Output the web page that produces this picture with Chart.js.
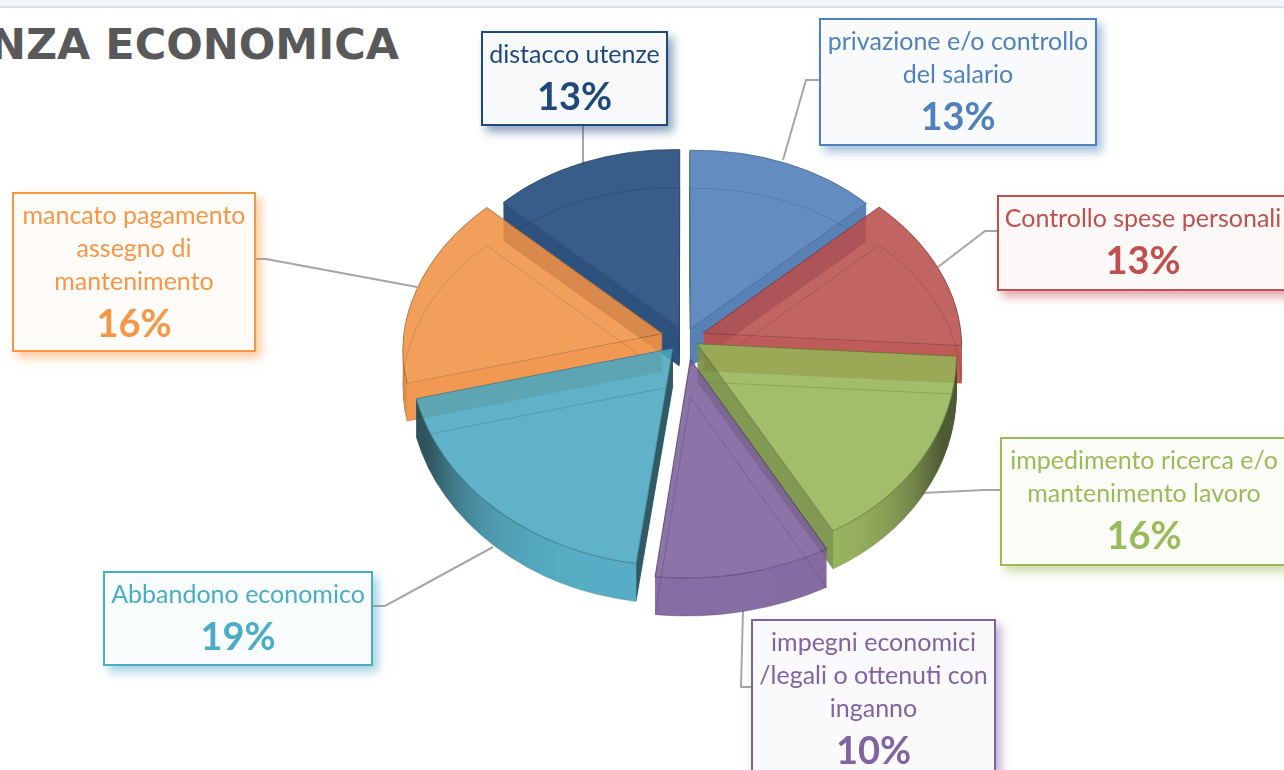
<!DOCTYPE html>
<html lang="it">
<head>
<meta charset="utf-8">
<title>Violenza economica</title>
<script src="https://cdn.jsdelivr.net/npm/chart.js@4"></script>
<style>
html,body{margin:0;padding:0;background:#fff;width:1284px;height:770px;overflow:hidden}
#stage{position:relative;width:1284px;height:770px;overflow:hidden}
#topbar{position:absolute;left:0;top:0;width:1284px;height:6px;background:#F0F6FC;border-bottom:2px solid #D9DEE2}
#title{position:absolute;right:885px;top:17px;white-space:nowrap;font:bold 43px/54px "DejaVu Sans",sans-serif;color:#595959}
canvas{position:absolute;left:0;top:0}
.box{position:absolute;box-sizing:border-box;border-style:solid;border-width:2.5px;text-align:center;font-family:Lato,sans-serif;font-size:25px;line-height:33px;padding-top:4px;white-space:nowrap}
.pct{font-weight:bold;font-size:38px;margin-top:9px}
</style>
</head>
<body>
<div id="stage">
  <div id="topbar"></div>
  <div id="title">NZA ECONOMICA</div>
  <canvas id="chart" width="1284" height="770"></canvas>
</div>
<script>
// ---- data ----
const categories = [
  ["privazione e/o controllo", "del salario"],
  ["Controllo spese personali"],
  ["impedimento ricerca e/o", "mantenimento lavoro"],
  ["impegni economici", "/legali o ottenuti con", "inganno"],
  ["Abbandono economico"],
  ["mancato pagamento", "assegno di", "mantenimento"],
  ["distacco utenze"]
];
const values = [13, 13, 16, 10, 19, 16, 13];
const colors = ["#4F81BD", "#C0504D", "#9BBB59", "#8064A2", "#4BACC6", "#F79646", "#1F497D"];

// ---- styling / layout ----
const explode = [0.05, 0.075, 0.055, 0.11, 0.07, 0.09, 0.055];
const drawOrder = [6, 0, 5, 1, 4, 2, 3];
const boxes = [
  {l: 819, t: 18, w: 278, h: 128},
  {l: 997, t: 195, w: 292, h: 96},
  {l: 1000, t: 437, w: 288, h: 129},
  {l: 751, t: 619, w: 245, h: 170},
  {l: 103, t: 571, w: 270, h: 95},
  {l: 12, t: 192, w: 244, h: 160},
  {l: 481, t: 31, w: 187, h: 95}
];
const leaders = [
  [[783,160],[806,80],[820,80]],
  [[938,267],[985,231],[998,231]],
  [[921,493],[985,490],[1002,490]],
  [[743,610],[741,687],[752,687]],
  [[493,547],[385,606],[372,606]],
  [[417,287],[266,259],[255,259]],
  [[583,165],[583,125]]
];
const view = {cx: 685, cy: 338, rx: 258, ry: 196, persp: 0.088, depth: 38};

function rgb(hex){return [1,3,5].map(i=>parseInt(hex.substr(i,2),16));}
function css(c,k,a){return `rgba(${c.map(v=>Math.round(v*k)).join(',')},${a===undefined?1:a})`;}
function wallColor(c,nx,strength){
  const m=strength*0.75*Math.pow(Math.abs(nx),5), k=0.97*(1-m)+0.22*m;
  return css(c,k);
}
function project(u,v){
  const w=1/(1-view.persp*v);
  return {x:view.cx+view.rx*u*w, y:view.cy+view.ry*v*w};
}

function withOptions(arc,over,fn){
  const o=arc.options;
  arc.options=Object.assign(Object.create(o),over);
  fn();
  arc.options=o;
}

const off=document.createElement('canvas');
off.width=1284;off.height=770;

const pie3d={
  id:'pie3d',
  beforeDatasetDraw(chart,args){
    const ctx=chart.ctx, arcs=args.meta.data, oc=off.getContext('2d');
    // callout leader lines sit behind the pie
    ctx.save();
    ctx.strokeStyle='#A6A6A6';ctx.lineWidth=2;
    leaders.forEach(p=>{ctx.beginPath();p.forEach((q,i)=>i?ctx.lineTo(q[0],q[1]):ctx.moveTo(q[0],q[1]));ctx.stroke();});
    ctx.restore();

    drawOrder.forEach(i=>{
      const arc=arcs[i], c=rgb(colors[i]);
      const {x:ex,y:ey,startAngle:a0,endAngle:a1,outerRadius:R}=arc.getProps(['x','y','startAngle','endAngle','outerRadius'],true);
      const mid=(a0+a1)/2, ox=explode[i]*Math.cos(mid), oy=explode[i]*Math.sin(mid);
      const Pa=project(ox,oy), P0=project(ox+Math.cos(a0),oy+Math.sin(a0)), P1=project(ox+Math.cos(a1),oy+Math.sin(a1));
      const e0x=R*Math.cos(a0),e0y=R*Math.sin(a0),e1x=R*Math.cos(a1),e1y=R*Math.sin(a1);
      const t0x=P0.x-Pa.x,t0y=P0.y-Pa.y,t1x=P1.x-Pa.x,t1y=P1.y-Pa.y;
      const det=e0x*e1y-e1x*e0y;
      const m11=(t0x*e1y-t1x*e0y)/det,m12=(t1x*e0x-t0x*e1x)/det,m21=(t0y*e1y-t1y*e0y)/det,m22=(t1y*e0x-t0y*e1x)/det;
      const place=(g,dy)=>g.setTransform(m11,m21,m12,m22,Pa.x-m11*ex-m12*ey,Pa.y-m21*ex-m22*ey+dy);
      // only the slices on the near side fall into shade at their ends
      const shade=Math.sin(mid)>0?1:0.15;

      // side wall on a scratch canvas
      oc.setTransform(1,0,0,1,0,0);
      oc.globalCompositeOperation='source-over';
      oc.clearRect(0,0,1284,770);
      withOptions(arc,{backgroundColor:'#000',borderWidth:0},()=>{
        for(let d=view.depth;d>=1;d--){place(oc,d);arc.draw(oc);}
      });
      oc.setTransform(1,0,0,1,0,0);
      oc.globalCompositeOperation='source-in';
      const g=oc.createLinearGradient(view.cx-view.rx,0,view.cx+view.rx,0);
      for(let s=0;s<=20;s++){g.addColorStop(s/20,wallColor(c,s/10-1,shade));}
      oc.fillStyle=g;oc.fillRect(0,0,1284,770);
      oc.globalCompositeOperation='source-atop';
      [[P0,P1],[P1,P0]].forEach(([A,B])=>{
        let nx=A.y-Pa.y, ny=-(A.x-Pa.x);
        if(nx*(B.x-Pa.x)+ny*(B.y-Pa.y)>0){nx=-nx;ny=-ny;}
        if(ny<=0)return;
        const len=Math.hypot(nx,ny);
        oc.fillStyle=wallColor(c,nx/len,1);
        oc.beginPath();oc.moveTo(Pa.x,Pa.y);oc.lineTo(A.x,A.y);oc.lineTo(A.x,A.y+view.depth);oc.lineTo(Pa.x,Pa.y+view.depth);oc.closePath();oc.fill();
      });
      oc.globalCompositeOperation='destination-out';
      withOptions(arc,{backgroundColor:'#000',borderWidth:0},()=>{place(oc,0);arc.draw(oc);});
      oc.setTransform(1,0,0,1,0,0);
      ctx.save();
      ctx.setTransform(1,0,0,1,0,0);
      ctx.globalAlpha=0.92;
      ctx.drawImage(off,0,0);
      ctx.restore();

      // top face, translucent so that what lies behind shows through
      ctx.save();
      place(ctx,0);
      withOptions(arc,{backgroundColor:css(c,0.97,0.88),borderColor:css(c,0.6,0.7),borderWidth:1},()=>arc.draw(ctx));
      // bottom outline seen through the slab
      place(ctx,view.depth);
      withOptions(arc,{backgroundColor:'rgba(0,0,0,0)',borderColor:css(c,0.55,0.35),borderWidth:0.8},()=>arc.draw(ctx));
      ctx.restore();
    });
    return false;
  }
};

new Chart(document.getElementById('chart'),{
  type:'pie',
  data:{
    labels:categories.map(l=>l.join(' ')),
    datasets:[{data:values,backgroundColor:colors,borderWidth:0,radius:250}]
  },
  options:{
    responsive:false,
    animation:false,
    events:[],
    layout:{padding:0},
    plugins:{legend:{display:false},tooltip:{enabled:false}}
  },
  plugins:[pie3d]
});

// callout boxes: real text, one per category
const stage=document.getElementById('stage');
categories.forEach((lines,i)=>{
  const b=boxes[i], c=rgb(colors[i]), el=document.createElement('div');
  el.className='box';
  el.style.cssText=`left:${b.l}px;top:${b.t}px;width:${b.w}px;height:${b.h}px;color:${colors[i]};border-color:${colors[i]};`+
    `background:rgba(${c.join(',')},0.04);box-shadow:5px 6px 9px rgba(${c.join(',')},0.5)`;
  lines.forEach(t=>{const d=document.createElement('div');d.textContent=t;el.appendChild(d);});
  const p=document.createElement('div');p.className='pct';p.textContent=values[i]+'%';el.appendChild(p);
  stage.appendChild(el);
});
</script>
</body>
</html>
